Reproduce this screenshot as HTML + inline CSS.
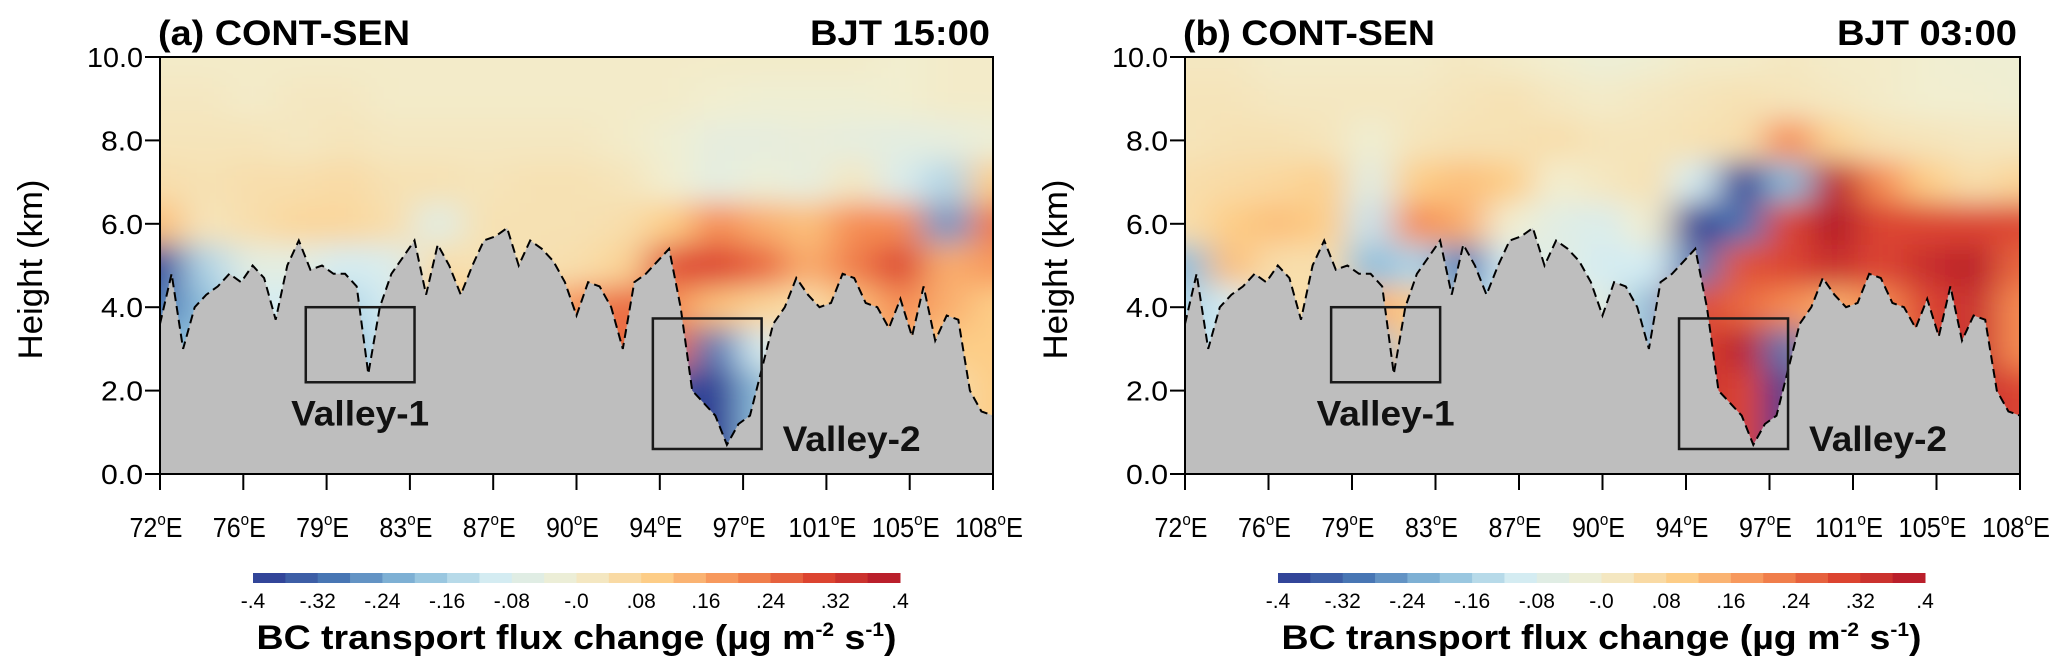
<!DOCTYPE html>
<html><head><meta charset="utf-8"><style>
html,body{margin:0;padding:0;background:#fff;}
svg{display:block;font-family:"Liberation Sans",Arial,sans-serif;}
</style></head><body>
<svg id="fig" width="2067" height="670" viewBox="0 0 2067 670"></svg>
<script>
// ---- data ----
const lonTicks=[72,75.6,79.2,82.8,86.4,90,93.6,97.2,100.8,104.4,108];
const lonTickLabels=["72","76","79","83","87","90","94","97","101","105","108"];
const heightTicks=[0,2,4,6,8,10];
const heightTickLabels=["0.0","2.0","4.0","6.0","8.0","10.0"];
const cbLevels=[-0.4,-0.36,-0.32,-0.28,-0.24,-0.2,-0.16,-0.12,-0.08,-0.04,0,0.04,0.08,0.12,0.16,0.2,0.24,0.28,0.32,0.36,0.4];
const cbLabels=["-.4","-.32","-.24","-.16","-.08","-.0",".08",".16",".24",".32",".4"];
const terrainLon=[];for(let i=0;i<=72;i++)terrainLon.push(72+i*0.5);
const terrain=[3.6,4.8,3.0,4.0,4.3,4.5,4.8,4.6,5.0,4.7,3.7,5.0,5.6,4.9,5.0,4.8,4.8,4.5,2.4,4.0,4.8,5.2,5.6,4.3,5.5,5.0,4.3,5.0,5.6,5.7,5.9,5.0,5.6,5.4,5.1,4.6,3.8,4.6,4.5,4.0,3.0,4.6,4.8,5.1,5.4,4.0,2.0,1.7,1.4,0.7,1.2,1.4,2.5,3.6,4.0,4.7,4.3,4.0,4.1,4.8,4.7,4.1,4.0,3.5,4.2,3.3,4.5,3.2,3.8,3.7,2.0,1.5,1.4];
const gridLon=[72,74,76,78,80,82,84,86,88,90,92,94,96,98,100,102,104,106,108];
const gridH=[10,9,8,7,6,5,4,3,2,1,0];
const fluxA=[
[.01,.01,.01,.01,.01,.01,.01,.01,.01,.01,.01,.01,.01,.01,.01,.01,.0,.01,.01],
[.02,.02,.01,.02,.02,.01,.01,.01,.01,.01,.01,.01,.0,-.01,-.01,-.01,.0,.01,.01],
[.03,.03,.03,.02,.03,.02,.02,.02,.02,.02,.01,-.01,-.04,-.04,-.03,-.04,-.05,-.04,-.02],
[.05,.04,.05,.05,.06,.04,.04,.03,.04,.04,.03,.0,-.05,-.02,-.04,.02,-.08,-.15,.1],
[.12,.03,.05,.07,.07,.05,-.06,.04,.04,.04,.05,.1,.2,.15,.12,.2,.2,-.25,.22],
[-.38,-.15,-.05,-.05,-.1,-.08,.05,.04,.04,.05,.08,.28,.3,.25,.15,.22,.3,.15,.18],
[-.3,-.2,-.1,-.1,-.15,-.1,.1,.1,.1,.2,.25,.2,.12,.08,.05,.12,.2,.15,.1],
[-.2,-.2,-.1,-.1,-.2,-.1,.1,.1,.1,.2,.25,.25,-.3,-.1,.05,.1,.15,.1,.1],
[-.2,-.2,-.1,-.1,-.3,-.1,.1,.1,.1,.2,.2,-.35,-.42,-.2,.05,.1,.1,.05,.1],
[-.2,-.2,-.1,-.1,-.3,-.1,.1,.1,.1,.2,.2,-.4,-.45,-.2,.05,.1,.1,.05,.1],
[-.2,-.2,-.1,-.1,-.3,-.1,.1,.1,.1,.2,.2,-.4,-.45,-.2,.05,.1,.1,.05,.1]];
const fluxB=[
[.02,.02,.01,.01,.01,.01,.02,.01,.0,-.02,-.01,.01,.01,.02,.01,.01,.0,-.01,-.01],
[.03,.03,.02,.02,.02,.02,.03,.04,.02,.01,.02,.03,.04,.03,.02,.01,.0,.0,-.01],
[.03,.04,.04,.03,-.01,.03,.04,.04,.05,.03,.03,.04,.05,.2,.08,.04,.03,.02,.02],
[.05,.06,.07,.09,-.06,.1,.12,.1,.0,.02,.04,-.1,-.4,-.2,.38,.2,.1,.05,.08],
[.05,.1,.12,.1,-.12,.2,.15,.0,-.06,-.08,.0,-.42,-.3,.3,.4,.3,.3,.3,.3],
[-.2,.12,.05,.05,-.2,-.15,-.3,-.1,-.05,-.1,-.1,-.3,.28,.3,.35,.3,.35,.38,.25],
[-.15,-.1,.05,.05,.15,.1,-.2,-.1,-.05,-.05,-.2,.3,.25,.2,.15,.2,.3,.35,.2],
[-.15,-.1,.05,.05,-.2,.1,-.2,-.1,-.05,-.05,-.2,.3,.38,-.3,.15,.2,.3,.35,.2],
[-.15,-.1,.05,.05,-.3,.1,-.2,-.1,-.05,-.05,-.2,.35,.3,-.4,.15,.2,.3,.35,.3],
[-.15,-.1,.05,.05,-.3,.1,-.2,-.1,-.05,-.05,-.2,.35,.3,-.4,.15,.2,.3,.35,.3],
[-.15,-.1,.05,.05,-.3,.1,-.2,-.1,-.05,-.05,-.2,.35,.3,-.4,.15,.2,.3,.35,.3]];
const valley1=[78.3,83.0,2.2,4.0];
const valley2=[93.3,98.0,0.6,3.73];

// ---- drawing ----
const NS="http://www.w3.org/2000/svg";
const svg=document.getElementById('fig');
function mk(t,a,p){const e=document.createElementNS(NS,t);for(const k in a)e.setAttribute(k,a[k]);(p||svg).appendChild(e);return e;}
const anchors=[[-0.4,[44,57,146]],[-0.3,[72,118,180]],[-0.2,[140,190,220]],[-0.1,[212,236,242]],[0,[242,238,208]],[0.1,[253,205,135]],[0.2,[245,140,82]],[0.3,[220,68,48]],[0.4,[178,22,42]]];
function colorOf(v){v=Math.max(-0.4,Math.min(0.4,v));for(let i=0;i<anchors.length-1;i++){const a=anchors[i],b=anchors[i+1];if(v<=b[0]){const t=(v-a[0])/(b[0]-a[0]);return 'rgb('+a[1].map((c,j)=>Math.round(c+(b[1][j]-c)*t)).join(',')+')';}}return 'rgb(178,22,42)';}
const defs=mk('defs',{});
const f=mk('filter',{id:'blur',x:'-10%',y:'-10%',width:'120%',height:'120%',filterUnits:'objectBoundingBox'},defs);
mk('feGaussianBlur',{stdDeviation:'18 14'},f);

const panels=[{x0:160,x1:993,flux:fluxA,title:"(a) CONT-SEN",time:"BJT 15:00",id:'a'},{x0:1185,x1:2020,flux:fluxB,title:"(b) CONT-SEN",time:"BJT 03:00",id:'b'}];
const yTop=57,yBot=474;
panels.forEach(P=>{
  const g=mk('g',{});
  
  
  const X=lon=>P.x0+(lon-72)/36*(P.x1-P.x0);
  const Y=h=>yBot-h/10*(yBot-yTop);
  const cp=mk('clipPath',{id:'clip'+P.id},defs);
  mk('rect',{x:P.x0,y:yTop,width:P.x1-P.x0,height:yBot-yTop},cp);
  const cg=mk('g',{'clip-path':'url(#clip'+P.id+')'},g);
  const fg=mk('g',{filter:'url(#blur)'},cg);
  
  
  const dx=(X(2)-X(0)),dy=Y(0)-Y(1);
  P.flux.forEach((row,r)=>row.forEach((v,c)=>{
    let x=X(gridLon[c])-dx/2,w=dx,y=Y(gridH[r])-dy/2,h=dy;
    if(c===0){x-=60;w+=60;} if(c===row.length-1){w+=60;}
    if(r===0){y-=60;h+=60;} if(r===P.flux.length-1){h+=60;}
    const cell=mk('rect',{x:x,y:y,width:w+0.5,height:h+0.5,fill:colorOf(v)},fg);
    
    
  }));
  let pts=terrainLon.map((l,i)=>X(l).toFixed(1)+','+Y(terrain[i]).toFixed(1));
  const tp=mk('polygon',{points:X(72)+','+yBot+' '+pts.join(' ')+' '+X(108)+','+yBot,fill:'#bebebe'},cg);
  
  
  const tl=mk('polyline',{points:pts.join(' '),fill:'none',stroke:'#000','stroke-width':2,'stroke-dasharray':'9,5'},cg);
  
  
  const fr=mk('rect',{x:P.x0,y:yTop,width:P.x1-P.x0,height:yBot-yTop,fill:'none',stroke:'#000','stroke-width':2},g);
  
  
  [[valley1,'Valley-1',-1],[valley2,'Valley-2',1]].forEach(([b,name,side])=>{
    const r=mk('rect',{x:X(b[0]),y:Y(b[3]),width:X(b[1])-X(b[0]),height:Y(b[2])-Y(b[3]),fill:'none',stroke:'#1a1a1a','stroke-width':2.5},g);
    
    
    const tx=side<0?(X(b[0])+X(b[1]))/2:X(b[1])+90;
    const ty=side<0?Y(b[2])+43:Y(b[2])+2;
    const t=mk('text',{x:tx,y:ty,'text-anchor':'middle','font-size':35,'font-weight':'bold',fill:'#111',textLength:138,lengthAdjust:'spacingAndGlyphs'},g);
    t.textContent=name;
    
    
  });
  lonTicks.forEach((l,i)=>{
    mk('line',{x1:X(l),x2:X(l),y1:yBot,y2:yBot+16,stroke:'#000','stroke-width':2},g);
    const t=mk('text',{x:X(l)-4,y:yBot+63,'text-anchor':'middle','font-size':28,fill:'#000',textLength:(lonTickLabels[i].length+1)*15+8,lengthAdjust:'spacingAndGlyphs'},g);
    t.innerHTML=lonTickLabels[i]+'<tspan dy="-12" font-size="17">o</tspan><tspan dy="12">E</tspan>';
    
    
  });
  heightTicks.forEach((h,i)=>{
    mk('line',{x1:P.x0-15,x2:P.x0,y1:Y(h),y2:Y(h),stroke:'#000','stroke-width':2},g);
    const t=mk('text',{x:P.x0-17,y:Y(h)+10,'text-anchor':'end','font-size':28,fill:'#000',textLength:heightTickLabels[i].length*14,lengthAdjust:'spacingAndGlyphs'},g);
    t.textContent=heightTickLabels[i];
    
    
  });
  const yt=mk('text',{x:0,y:0,'text-anchor':'middle','font-size':34,fill:'#000',textLength:180,lengthAdjust:'spacingAndGlyphs',transform:'translate('+(P.x0-118)+','+((yTop+yBot)/2+4)+') rotate(-90)'},g);
  yt.textContent='Height (km)';
  
  
  const tt=mk('text',{x:P.x0-2,y:45,'font-size':35,'font-weight':'bold',fill:'#000',textLength:252,lengthAdjust:'spacingAndGlyphs'},g);
  tt.textContent=P.title;
  
  
  const tm=mk('text',{x:P.x1-3,y:45,'text-anchor':'end','font-size':35,'font-weight':'bold',fill:'#000',textLength:180,lengthAdjust:'spacingAndGlyphs'},g);
  tm.textContent=P.time;
  
  
  const cbx0=P.x0+93,cbx1=P.x0+740,cby=573,cbh=10;
  const cb=mk('g',{},g);
  
  
  const n=cbLevels.length-1,bw=(cbx1-cbx0)/n;
  for(let i=0;i<n;i++){
    mk('rect',{x:cbx0+i*bw,y:cby,width:bw+0.5,height:cbh,fill:colorOf((cbLevels[i]+cbLevels[i+1])/2)},cb);
  }
  cbLabels.forEach((s,i)=>{
    const t=mk('text',{x:cbx0+i*2*bw,y:cby+35,'text-anchor':'middle','font-size':21,fill:'#000'},cb);
    t.textContent=s;
    
    
  });
  const ct=mk('text',{x:(cbx0+cbx1)/2,y:cby+76,'text-anchor':'middle','font-size':34,'font-weight':'bold',fill:'#000',textLength:640,lengthAdjust:'spacingAndGlyphs'},cb);
  ct.innerHTML='BC transport flux change (\u00b5g m<tspan dy="-13" font-size="19">-2</tspan><tspan dy="13"> s</tspan><tspan dy="-13" font-size="19">-1</tspan><tspan dy="13">)</tspan>';
  
  
});
</script>
</body></html>
